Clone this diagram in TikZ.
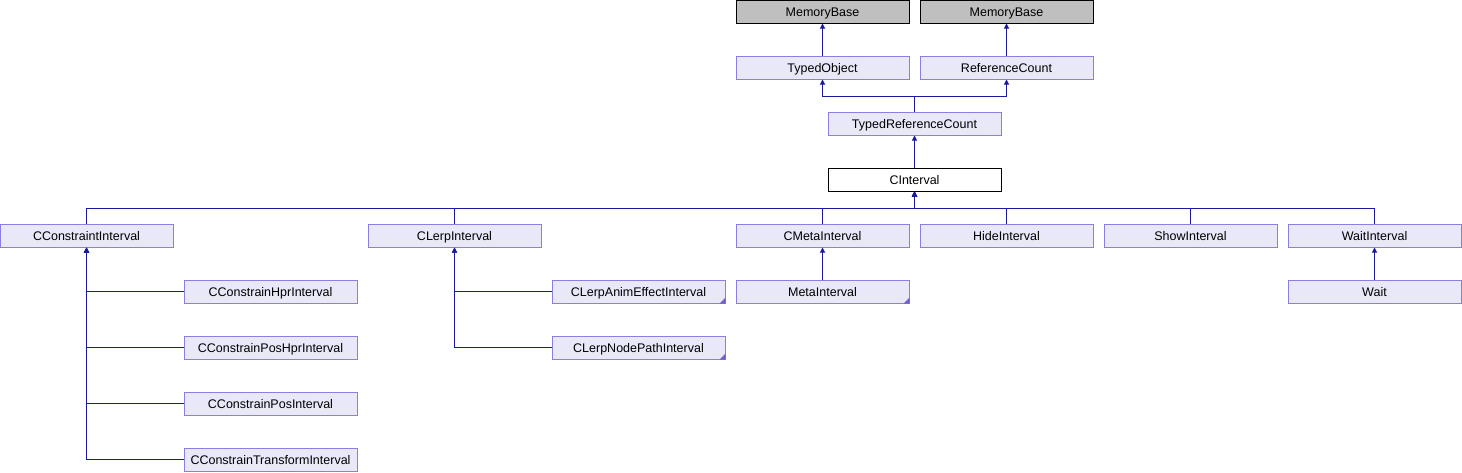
\documentclass[tikz,border=0pt]{standalone}
\usepackage{fontspec}
\setmainfont{Liberation Sans}
\usetikzlibrary{arrows.meta}
\definecolor{boxfill}{HTML}{E8E8F8}
\definecolor{boxdraw}{HTML}{8B80E0}
\definecolor{edgecol}{HTML}{1A1A9A}
\definecolor{rootfill}{HTML}{BFBFBF}
\definecolor{trifill}{HTML}{7060D0}
\tikzset{
  cls/.style={draw=boxdraw, fill=boxfill, line width=1pt, minimum width=173pt, minimum height=23pt, inner sep=0pt, text height=9pt, text depth=0pt, font=\fontsize{12.5}{14}\selectfont},
  root/.style={cls, draw=black, fill=rootfill},
  cur/.style={cls, draw=black, fill=white},
  edge/.style={draw=edgecol, line width=1pt},
  inh/.style={edge, -{Triangle[length=5pt,width=5pt]}},
  tri/.style={fill=trifill},
}
\begin{document}
\begin{tikzpicture}[x=1pt,y=-1pt]
\useasboundingbox (0,0) rectangle (1462,472);
% rows
\node[root] (mb1) at (822.5,11.5) {MemoryBase};
\node[root] (mb2) at (1006.5,11.5) {MemoryBase};
\node[cls] (to) at (822.5,67.5) {TypedObject};
\node[cls] (rc) at (1006.5,67.5) {ReferenceCount};
\node[cls] (trc) at (914.5,123.5) {TypedReferenceCount};
\node[cur] (ci) at (914.5,179.5) {CInterval};
\node[cls] (cci) at (86.5,235.5) {CConstraintInterval};
\node[cls] (cli) at (454.5,235.5) {CLerpInterval};
\node[cls] (cmi) at (822.5,235.5) {CMetaInterval};
\node[cls] (hi) at (1006.5,235.5) {HideInterval};
\node[cls] (si) at (1190.5,235.5) {ShowInterval};
\node[cls] (wi) at (1374.5,235.5) {WaitInterval};
\node[cls] (chpr) at (270.5,291.5) {CConstrainHprInterval};
\node[cls] (cphpr) at (270.5,347.5) {CConstrainPosHprInterval};
\node[cls] (cpos) at (270.5,403.5) {CConstrainPosInterval};
\node[cls] (ctr) at (270.5,459.5) {CConstrainTransformInterval};
\node[cls] (clae) at (638.5,291.5) {CLerpAnimEffectInterval};
\node[cls] (clnp) at (638.5,347.5) {CLerpNodePathInterval};
\node[cls] (mi) at (822.5,291.5) {MetaInterval};
\node[cls] (wait) at (1374.5,291.5) {Wait};
% truncation marks
\foreach \n in {clae,clnp,mi}{
  \fill[tri] (\n.south east) -- ++(-6,0) -- ++(6,-6) -- cycle;
}
% bus coordinates
\coordinate (b1) at (914.5,96);
\coordinate (b2) at (914.5,208);
% edges
\draw[inh] (to.north) -- (mb1.south);
\draw[inh] (rc.north) -- (mb2.south);
\draw[inh] (trc.north) -- (b1) -| (to.south);
\draw[inh] (trc.north) -- (b1) -| (rc.south);
\draw[inh] (ci.north) -- (trc.south);
\foreach \n in {cci,cli,cmi,hi,si,wi}{
  \draw[inh] (\n.north) -- (\n.north |- b2) -| (ci.south);
}
\foreach \n in {chpr,cphpr,cpos,ctr}{
  \draw[inh] (\n.west) -| (cci.south);
}
\foreach \n in {clae,clnp}{
  \draw[inh] (\n.west) -| (cli.south);
}
\draw[inh] (mi.north) -- (cmi.south);
\draw[inh] (wait.north) -- (wi.south);
\end{tikzpicture}
\end{document}
